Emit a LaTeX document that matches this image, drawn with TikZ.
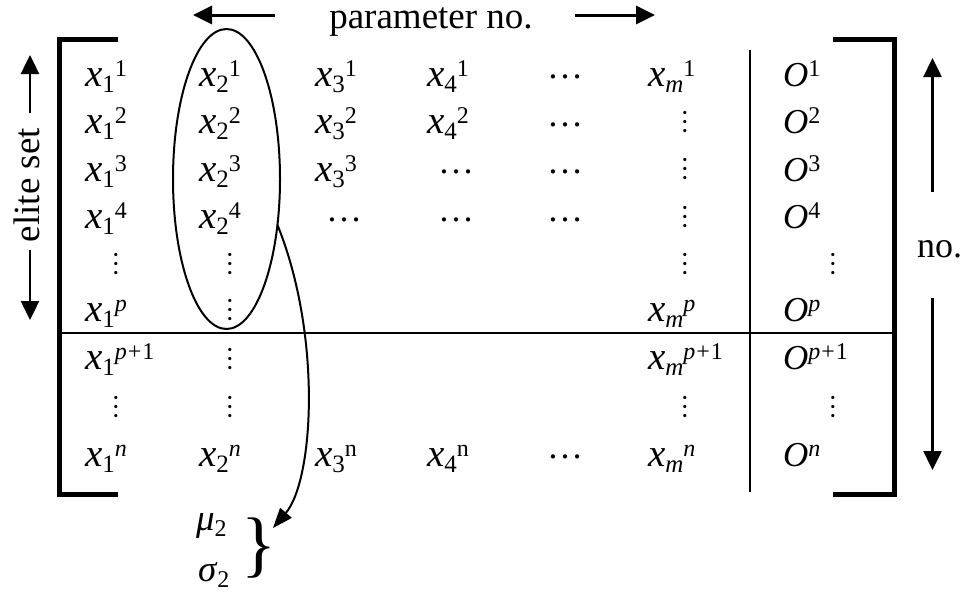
\documentclass[tikz,border=0pt]{standalone}
\usepackage{fontspec}
\setmainfont{Liberation Serif}
\usetikzlibrary{arrows.meta,shapes.geometric}
\newcommand\fsz[1]{\fontsize{#1}{#1}\selectfont}
\newcommand\xent[3]{{\fsz{39}\textit{#1}\raisebox{-6pt}{\fsz{25}#2}\raisebox{10pt}{\fsz{24}#3}}}
\newcommand\oent[1]{{\fsz{35}\textit{O}\raisebox{10pt}{\fsz{24}#1}}}
\newcommand\pone{\textit{p}\kern1pt+\kern1pt1}
\newcommand\hdt{{\fsz{36}\raisebox{7.5pt}{…}}}
\tikzset{
  ent/.style={anchor=base west, inner sep=0pt, outer sep=0pt},
  hd/.style={anchor=base, inner sep=0pt, outer sep=0pt},
  vd/.style={anchor=center, inner sep=0pt, outer sep=0pt, rotate=90, font=\fsz{27}},
  bracketline/.style={line width=5pt, line join=miter, line cap=rect},
  rule/.style={line width=2pt},
  bigarrow/.style={line width=3pt, -{Triangle[length=19pt,width=18pt]}},
  sidearrow/.style={line width=2.5pt, -{Triangle[length=19pt,width=18pt]}},
  curvearrow/.style={line width=2pt, -{Triangle[length=20pt,width=15pt]}},
  label/.style={inner sep=0pt, outer sep=0pt}
}
\begin{document}
\begin{tikzpicture}[x=1pt,y=-1pt]
\useasboundingbox[fill=white] (0,0) rectangle (965,592);

% brackets
\draw[bracketline] (115,39) -- (59,39) -- (59,494.5) -- (115,494.5);
\draw[bracketline] (835,39) -- (894.5,39) -- (894.5,494.5) -- (835,494.5);
% rules
\draw[rule] (59,333) -- (894.5,333);
\draw[rule] (750,50) -- (750,492);

% title
\node[label, anchor=base, font=\fsz{37}] (ptitle) at (431,28) {parameter no.};
\coordinate (pla) at (275,15); \coordinate (plb) at (193,15);
\coordinate (pra) at (575,15); \coordinate (prb) at (655,15);
\draw[bigarrow] (pla) -- (plb);
\draw[bigarrow] (pra) -- (prb);

% elite set
\node[label, rotate=90, anchor=base, font=\fsz{37}] (elite) at (39,185) {elite set};
\coordinate (ela) at (30,113); \coordinate (elb) at (30,55);
\coordinate (elc) at (30,250); \coordinate (eld) at (30,320);
\draw[sidearrow] (ela) -- (elb);
\draw[sidearrow] (elc) -- (eld);

% no.
\node[label, anchor=base, font=\fsz{36}] (nolab) at (939.5,257) {no.};
\coordinate (noa) at (932.5,192); \coordinate (nob) at (932.5,58);
\coordinate (noc) at (932.5,298); \coordinate (nod) at (932.5,470);
\draw[sidearrow] (noa) -- (nob);
\draw[sidearrow] (noc) -- (nod);

% row 1
\node[ent] (a11) at (85,86) {\xent{x}{1}{1}};
\node[ent] (a21) at (199,86) {\xent{x}{2}{1}};
\node[ent] (a31) at (315,86) {\xent{x}{3}{1}};
\node[ent] (a41) at (427,86) {\xent{x}{4}{1}};
\node[hd] (h51) at (565,86) {\hdt};
\node[ent] (am1) at (648,86) {\xent{x}{\textit{m}}{1}};
\node[ent] (o1) at (783,86) {\oent{1}};
% row 2
\node[ent] (a12) at (85,133.5) {\xent{x}{1}{2}};
\node[ent] (a22) at (199,133.5) {\xent{x}{2}{2}};
\node[ent] (a32) at (315,133.5) {\xent{x}{3}{2}};
\node[ent] (a42) at (427,133.5) {\xent{x}{4}{2}};
\node[hd] (h52) at (565,133.5) {\hdt};
\node[vd] (vm2) at (685,121.5) {…};
\node[ent] (o2) at (783,133.5) {\oent{2}};
% row 3
\node[ent] (a13) at (85,181) {\xent{x}{1}{3}};
\node[ent] (a23) at (199,181) {\xent{x}{2}{3}};
\node[ent] (a33) at (315,181) {\xent{x}{3}{3}};
\node[hd] (h43) at (456,181) {\hdt};
\node[hd] (h53) at (565,181) {\hdt};
\node[vd] (vm3) at (685,169) {…};
\node[ent] (o3) at (783,181) {\oent{3}};
% row 4
\node[ent] (a14) at (85,228.5) {\xent{x}{1}{4}};
\node[ent] (a24) at (199,228.5) {\xent{x}{2}{4}};
\node[hd] (h34) at (344,228.5) {\hdt};
\node[hd] (h44) at (456,228.5) {\hdt};
\node[hd] (h54) at (565,228.5) {\hdt};
\node[vd] (vm4) at (685,216.5) {…};
\node[ent] (o4) at (783,228.5) {\oent{4}};
% row 5
\node[vd] (v15) at (116,264) {…};
\node[vd] (v25) at (230,264) {…};
\node[vd] (vm5) at (685,264) {…};
\node[vd] (vo5) at (833,264) {…};
% row 6
\node[ent] (a16) at (85,321) {\xent{x}{1}{\textit{p}}};
\node[vd] (v26) at (230,310) {…};
\node[ent] (am6) at (648,321) {\xent{x}{\textit{m}}{\textit{p}}};
\node[ent] (o6) at (783,321) {\oent{\textit{p}}};
% row 7
\node[ent] (a17) at (85,369) {\xent{x}{1}{\pone}};
\node[vd] (v27) at (230,359) {…};
\node[ent] (am7) at (648,369) {\xent{x}{\textit{m}}{\pone}};
\node[ent] (o7) at (783,369) {\oent{\pone}};
% row 8
\node[vd] (v18) at (116,406.5) {…};
\node[vd] (v28) at (230,406.5) {…};
\node[vd] (vm8) at (685,406.5) {…};
\node[vd] (vo8) at (833,406.5) {…};
% row 9
\node[ent] (a19) at (85,466) {\xent{x}{1}{\textit{n}}};
\node[ent] (a29) at (199,466) {\xent{x}{2}{\textit{n}}};
\node[ent] (a39) at (315,466) {\xent{x}{3}{n}};
\node[ent] (a49) at (427,466) {\xent{x}{4}{n}};
\node[hd] (h59) at (565,466) {\hdt};
\node[ent] (am9) at (648,466) {\xent{x}{\textit{m}}{\textit{n}}};
\node[ent] (o9) at (783,466) {\oent{\textit{n}}};

% ellipse
\node[draw, ellipse, line width=2pt, minimum width=107pt, minimum height=300pt, inner sep=0pt, outer sep=0pt] (ell) at (226.5,179) {};

% mu sigma brace
\node[label, anchor=base west] (mu) at (196,530) {{\fsz{37}\textit{μ}}\raisebox{-6pt}{\fsz{24}2}};
\node[label, anchor=base west] (sigma) at (198,581) {{\fsz{37}\textit{σ}}\raisebox{-6pt}{\fsz{24}2}};
\node[label, anchor=center, font=\fsz{73}] (brace) at (259,548) {\}};
\coordinate (tipc) at (273,528);
\draw[curvearrow] (ell.-42) .. controls (322,335) and (314,480) .. (tipc);
\end{tikzpicture}
\end{document}
